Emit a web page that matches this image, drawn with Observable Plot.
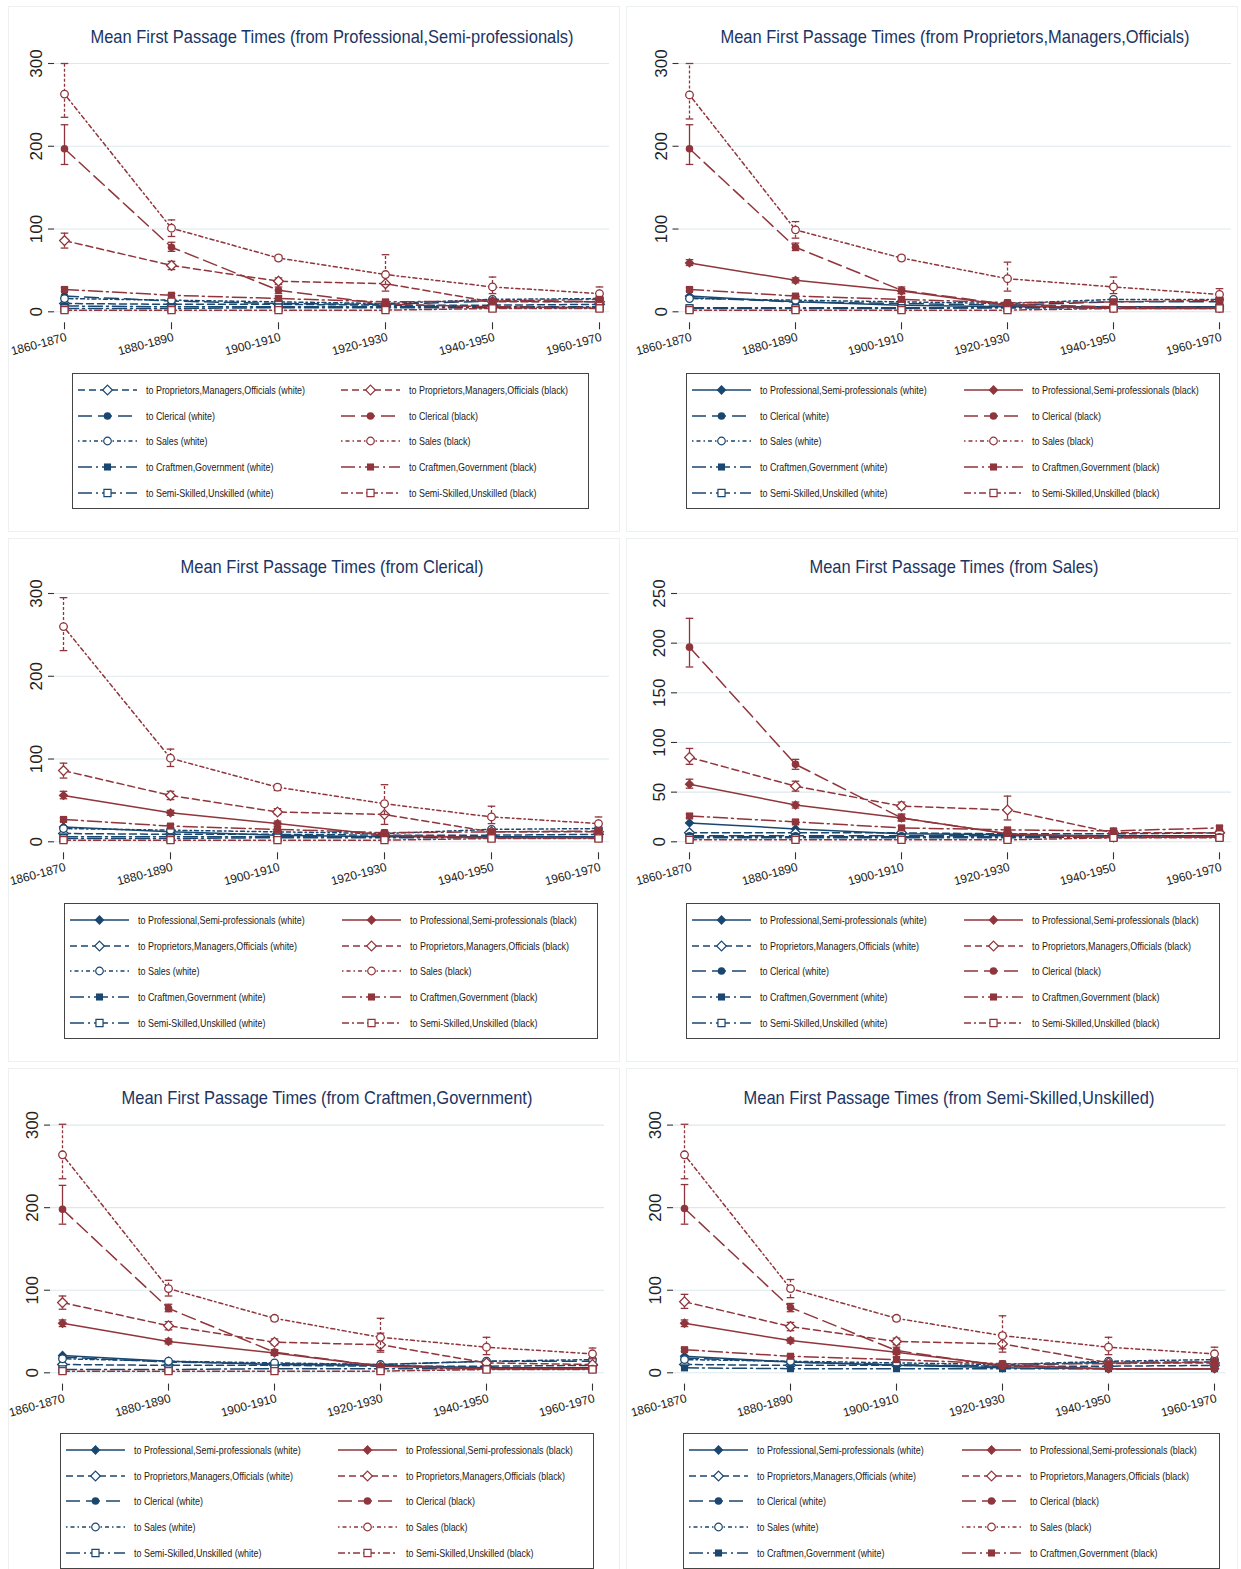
<!DOCTYPE html>
<html><head><meta charset="utf-8">
<script src="https://cdn.jsdelivr.net/npm/d3@7"></script>
<script src="https://cdn.jsdelivr.net/npm/@observablehq/plot@0.6"></script>
<style>
body{margin:0;background:#fff;width:1241px;height:1569px;overflow:hidden;position:relative;font-family:"Liberation Sans",Arial,sans-serif}
.pbox{position:absolute;border:1px solid #edf0f1;box-sizing:border-box}
.title{position:absolute;white-space:nowrap;font-size:18.5px;color:#1b3463;transform:translate(-50%,-50%) scaleX(0.89)}
.legend{position:absolute;border:1px solid #444;background:#fff;box-sizing:border-box;overflow:hidden}
.item{position:absolute;height:14px;display:flex;align-items:center}
.item span{font-size:10.5px;color:#1a1a1a;transform:scaleX(0.85);transform-origin:left center;white-space:nowrap;margin-left:8px}
.item svg{flex:none}
</style></head>
<body>
<script>
// ---------- data ----------
const periods = ["1860-1870","1880-1890","1900-1910","1920-1930","1940-1950","1960-1970"];
const destNames = ["Professional,Semi-professionals","Proprietors,Managers,Officials","Clerical","Sales","Craftmen,Government","Semi-Skilled,Unskilled"];
const yTicks300 = [0,100,200,300];
const yTicks250 = [0,50,100,150,200,250];

// Panel 1: from Professional,Semi-professionals
const p1Dest = [1,2,3,4,5];
const p1White = [[10,9,9,8,8,9],[19,13,10,9,13,12],[16,14,12,10,15,16],[7,6,6,6,6,6],[4,4,5,5,5,5]];
const p1Black = [[86,56,37,34,12,12],[197,78,26,9,6,5],[263,101,65,45,30,22],[27,20,16,12,13,15],[2,2,2,2,4,4]];
const p1Lo = [[77,51,33,25,10,10],[178,73,22,7,5,4],[235,91,62,33,22,17],[25,18,13,10,10,12],[1,1,1,1,3,3]];
const p1Hi = [[95,61,41,45,14,14],[226,84,30,11,7,6],[300,111,68,69,42,30],[29,22,19,14,16,18],[3,3,3,3,5,5]];

// Panel 2: from Proprietors,Managers,Officials
const p2Dest = [0,2,3,4,5];
const p2White = [[19,12,8,6,6,6],[17,12,10,8,12,12],[16,14,12,10,15,15],[5,5,5,5,5,5],[4,4,4,5,5,5]];
const p2Black = [[59,38,25,8,4,4],[197,78,26,9,6,5],[262,99,65,40,30,21],[27,19,15,11,12,14],[2,2,2,2,4,4]];
const p2Lo = [[56,35,22,7,3,3],[178,74,22,7,5,4],[233,89,62,25,22,17],[25,17,12,9,9,11],[1,1,1,1,3,3]];
const p2Hi = [[63,41,28,10,5,5],[226,83,30,11,7,6],[300,109,68,60,42,28],[29,21,18,13,15,17],[3,3,3,3,5,5]];

// Panel 3: from Clerical
const p3Dest = [0,1,3,4,5];
const p3White = [[18,12,8,6,6,6],[10,9,9,8,8,9],[16,14,12,10,15,16],[6,6,6,6,6,6],[4,4,5,5,5,5]];
const p3Black = [[56,35,22,8,5,5],[86,56,36,33,12,12],[260,101,66,46,30,22],[27,19,15,11,12,13],[2,2,2,2,4,4]];
const p3Lo = [[52,32,19,7,4,4],[77,51,33,21,10,10],[231,91,62,33,22,17],[25,17,12,9,9,11],[1,1,1,1,3,3]];
const p3Hi = [[61,38,25,10,6,6],[95,61,40,46,14,14],[295,112,69,69,43,30],[29,21,18,13,15,15],[3,3,3,3,5,5]];

// Panel 4: from Sales
const p4Dest = [0,1,2,4,5];
const p4White = [[19,13,8,7,6,6],[9,9,9,8,8,9],[6,6,6,6,6,6],[5,5,5,5,5,5],[4,4,4,4,5,5]];
const p4Black = [[58,37,24,8,4,5],[85,56,36,32,9,9],[196,78,24,8,5,5],[26,20,14,12,11,14],[2,2,2,2,4,4]];
const p4Lo = [[54,34,21,7,3,4],[78,51,33,22,7,7],[176,73,21,7,4,4],[24,18,12,10,9,12],[1,1,1,1,3,3]];
const p4Hi = [[63,40,27,10,5,6],[94,61,40,46,11,11],[225,83,28,10,6,6],[28,22,16,14,13,16],[3,3,3,3,5,5]];

// Panel 5: from Craftmen,Government
const p5Dest = [0,1,2,3,5];
const p5White = [[21,14,10,9,6,6],[10,9,9,8,8,9],[19,13,11,10,14,14],[17,14,12,10,14,16],[4,4,5,5,5,5]];
const p5Black = [[60,38,24,8,5,5],[85,57,37,34,12,10],[198,78,25,8,5,5],[264,102,66,43,31,23],[2,2,2,2,4,4]];
const p5Lo = [[56,35,21,7,4,4],[77,52,34,25,10,8],[180,74,22,7,4,4],[235,93,63,27,22,17],[1,1,1,1,3,3]];
const p5Hi = [[64,41,27,10,6,6],[93,62,41,48,14,12],[227,83,28,10,6,6],[301,112,69,66,43,30],[3,3,3,3,5,5]];

// Panel 6: from Semi-Skilled,Unskilled
const p6Dest = [0,1,2,3,4];
const p6White = [[20,13,9,6,5,5],[10,9,9,8,8,9],[18,13,10,8,13,13],[16,14,12,10,14,16],[6,5,5,5,5,5]];
const p6Black = [[60,39,25,9,5,5],[86,56,38,35,12,12],[199,79,27,8,5,5],[264,102,66,45,31,23],[28,20,16,11,11,13]];
const p6Lo = [[56,36,22,8,4,4],[78,51,34,25,10,10],[180,74,23,7,4,4],[235,91,63,29,22,17],[26,18,13,9,9,11]];
const p6Hi = [[64,42,28,11,6,6],[95,61,42,48,14,14],[228,84,31,10,6,6],[301,113,69,69,43,31],[30,22,19,13,13,15]];

// ---------- styles & layout ----------
const navy = "#1a476f", maroon = "#90353b";
const dashes = {
  white: [null, "7,4", "14,6", "1.5,3,4,3", "14,4,2,4", "14,4,2,4"],
  black: [null, "7,4", "14,6", "1.5,3,4,3", "14,4,2,4", "7,3,2,3"]
};
const syms = ["diamond2","diamond2","circle","circle","square","square"];
const hollow = [false,true,false,true,false,true];
const symR = [4.4,4.4,3.8,3.8,4,4];
const d3sym = {diamond2: d3.symbolDiamond2, circle: d3.symbolCircle, square: d3.symbolSquare};
const capSymbol = {draw(ctx) { ctx.moveTo(-3.8, 0); ctx.lineTo(3.8, 0); }};

const layout = [
  {left:0,   top:0,    axisX:54,    first:63,    last:599,    right:609,    yTop:51.7,   yZero:311,  yTickTop:62.7,   yBottom:322,    titleY:37,   legend:[72,373,517]},
  {left:620, top:0,    axisX:678.5, first:687,   last:1220,   right:1231,   yTop:51.7,   yZero:311,  yTickTop:62.7,   yBottom:322,    titleY:37,   legend:[686,373,534]},
  {left:0,   top:530,  axisX:54,    first:63,    last:598,    right:609,    yTop:581.7,  yZero:841,  yTickTop:592.7,  yBottom:852,    titleY:567,  legend:[64,903,534]},
  {left:620, top:530,  axisX:677,   first:687,   last:1220,   right:1231,   yTop:581.7,  yZero:841,  yTickTop:592.7,  yBottom:852,    titleY:567,  legend:[686,903,534]},
  {left:0,   top:1060, axisX:50,    first:60,    last:594,    right:604,    yTop:1112.7, yZero:1372, yTickTop:1124.3, yBottom:1383.3, titleY:1098, legend:[60,1433,534]},
  {left:620, top:1060, axisX:673,   first:682.5, last:1215.6, right:1225.5, yTop:1112.7, yZero:1372, yTickTop:1124.3, yBottom:1383.3, titleY:1098, legend:[683,1433,537]}
];
const boxes = [[8,6,612,526],[626,6,612,526],[8,538,612,524],[626,538,612,524],[8,1068,612,520],[626,1068,612,520]];

function buildRows(dest, white, black, lo, hi) {
  const rows = [];
  dest.forEach((d, k) => {
    periods.forEach((p, i) => {
      rows.push({period: p, dest: d, race: "white", v: white[k][i]});
      rows.push({period: p, dest: d, race: "black", v: black[k][i], lo: lo[k][i], hi: hi[k][i]});
    });
  });
  return rows;
}

function drawPanel(idx, fromIdx, dest, white, black, lo, hi, yTicks) {
  const L = layout[idx];
  const b = boxes[idx];
  const pb = document.createElement("div");
  pb.className = "pbox";
  Object.assign(pb.style, {left: b[0]+"px", top: b[1]+"px", width: b[2]+"px", height: b[3]+"px"});
  document.body.append(pb);

  const ymax = yTicks[yTicks.length - 1];
  const ppu = (L.yZero - L.yTickTop) / ymax;
  const yLow = -(L.yBottom - L.yZero) / ppu, yHigh = (L.yZero - L.yTop) / ppu;
  const svgTop = L.yTop - 10;
  const H = (L.yBottom - svgTop) + 45;
  const rows = buildRows(dest, white, black, lo, hi);

  const marks = [
    Plot.gridY(yTicks, {stroke: "#dde8ec", strokeOpacity: 1, strokeWidth: 1.1})
  ];
  for (const race of ["white", "black"]) {
    const color = race === "white" ? navy : maroon;
    for (const d of dest) {
      const s = rows.filter(r => r.race === race && r.dest === d);
      marks.push(Plot.line(s, {x: "period", y: "v", stroke: color, strokeWidth: 1.5, strokeDasharray: dashes[race][d]}));
      if (race === "black") {
        const eb = d === 3 ? "3,2" : null;
        marks.push(Plot.ruleX(s, {x: "period", y1: "lo", y2: "hi", stroke: color, strokeWidth: 1.3, strokeDasharray: eb}));
        marks.push(Plot.dot(s, {x: "period", y: "lo", symbol: capSymbol, stroke: color, fill: "none", strokeWidth: 1.3}));
        marks.push(Plot.dot(s, {x: "period", y: "hi", symbol: capSymbol, stroke: color, fill: "none", strokeWidth: 1.3}));
      }
      marks.push(Plot.dot(s, {x: "period", y: "v", symbol: syms[d], r: symR[d],
        fill: hollow[d] ? "white" : color, stroke: hollow[d] ? color : "none", strokeWidth: 1.3}));
    }
  }
  marks.push(Plot.axisY({ticks: yTicks, tickSize: 6, tickFormat: () => "", label: null, line: true, stroke: "#333", strokeWidth: 1.1}));
  marks.push(Plot.axisX({tickSize: 7, tickFormat: () => "", label: null, line: true, stroke: "#333", strokeWidth: 1.1}));
  marks.push(Plot.text(yTicks, {y: d => d, text: d => String(d), frameAnchor: "left", rotate: -90, dx: -17.5,
    fontSize: 17, fill: "#222", textAnchor: "middle", lineAnchor: "middle"}));
  marks.push(Plot.text(periods, {x: d => d, text: d => d, frameAnchor: "bottom", rotate: -15, dx: 2, dy: 14,
    fontSize: 12, fill: "#222", textAnchor: "end", lineAnchor: "middle"}));

  const chart = Plot.plot({
    width: 620, height: H,
    marginLeft: L.axisX - L.left, marginRight: L.left + 620 - L.right, marginTop: 10, marginBottom: 45,
    x: {type: "point", domain: periods, padding: 0, insetLeft: L.first - L.axisX, insetRight: L.right - L.last, label: null},
    y: {domain: [yLow, yHigh], label: null},
    style: {background: "transparent", fontFamily: "'Liberation Sans', Arial, sans-serif", overflow: "visible"},
    marks
  });
  chart.style.position = "absolute";
  chart.style.left = L.left + "px";
  chart.style.top = svgTop + "px";
  document.body.append(chart);

  const t = document.createElement("div");
  t.className = "title";
  t.textContent = "Mean First Passage Times (from " + destNames[fromIdx] + ")";
  t.style.left = ((L.axisX + L.right) / 2) + "px";
  t.style.top = L.titleY + "px";
  document.body.append(t);

  // legend
  const [lx, ly, w] = L.legend;
  const box = document.createElement("div");
  box.className = "legend";
  Object.assign(box.style, {left: lx + "px", top: ly + "px", width: w + "px", height: "136px"});
  dest.forEach((d, r) => {
    ["white", "black"].forEach((race, c) => {
      const color = race === "white" ? navy : maroon;
      const it = document.createElement("div");
      it.className = "item";
      it.style.left = (c ? w * 0.52 - 1 : 5) + "px";
      it.style.top = (17 + r * 25.7 - 8) + "px";
      const svg = d3.create("svg").attr("width", 60).attr("height", 14);
      svg.append("line").attr("x1", 0).attr("x2", 59).attr("y1", 7).attr("y2", 7)
        .attr("stroke", color).attr("stroke-width", 1.4).attr("stroke-dasharray", dashes[race][d]);
      const size = Math.PI * symR[d] * symR[d];
      svg.append("path").attr("transform", "translate(29.5,7)")
        .attr("d", d3.symbol(d3sym[syms[d]], size)())
        .attr("fill", hollow[d] ? "white" : color).attr("stroke", hollow[d] ? color : "none").attr("stroke-width", 1.2);
      it.append(svg.node());
      const sp = document.createElement("span");
      sp.textContent = "to " + destNames[d] + " (" + race + ")";
      it.append(sp);
      box.append(it);
    });
  });
  document.body.append(box);
}

drawPanel(0, 0, p1Dest, p1White, p1Black, p1Lo, p1Hi, yTicks300);
drawPanel(1, 1, p2Dest, p2White, p2Black, p2Lo, p2Hi, yTicks300);
drawPanel(2, 2, p3Dest, p3White, p3Black, p3Lo, p3Hi, yTicks300);
drawPanel(3, 3, p4Dest, p4White, p4Black, p4Lo, p4Hi, yTicks250);
drawPanel(4, 4, p5Dest, p5White, p5Black, p5Lo, p5Hi, yTicks300);
drawPanel(5, 5, p6Dest, p6White, p6Black, p6Lo, p6Hi, yTicks300);
</script>
</body></html>
